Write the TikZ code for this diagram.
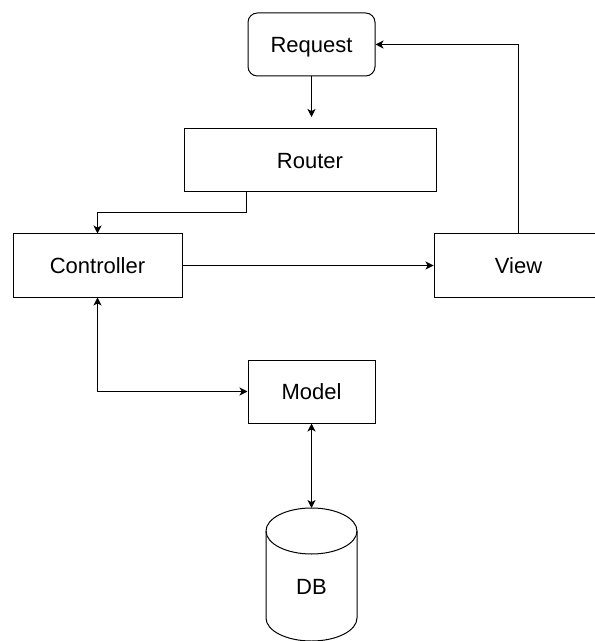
\documentclass[tikz,border=0pt]{standalone}
\usepackage{fontspec}
\setmainfont{Liberation Sans}
\usetikzlibrary{arrows.meta}
\tikzset{
  lbl/.style={font=\fontsize{16.5}{19}\selectfont, text height=11.8pt, text depth=0pt},
  box/.style={lbl, draw=black, line width=0.75pt, inner sep=0pt, fill=white},
  rbox/.style={box, rounded corners=7pt},
  conn/.style={draw=black, line width=0.75pt,
    arrows={-Stealth[length=6pt, width=6pt, inset=1.6pt]}},
  biconn/.style={conn, arrows={Stealth[length=6pt, width=6pt, inset=1.6pt]-Stealth[length=6pt, width=6pt, inset=1.6pt]}},
}
\begin{document}
\begin{tikzpicture}[x=0.75pt, y=-0.75pt]
  \useasboundingbox (0,0) rectangle (594,641);
  \fill[white] (0,0) rectangle (594,641);

  % components
  \node[rbox, minimum width=95.25pt, minimum height=47.25pt] (req) at (311.5,44.5) {Request};
  \node[box, minimum width=189pt, minimum height=47.25pt] (router) at (310,160.5) {Router};
  \node[box, minimum width=126.75pt, minimum height=47.25pt] (ctrl) at (97.5,265.5) {Controller};
  \node[box, minimum width=126.75pt, minimum height=47.25pt] (view) at (518.5,265.5) {View};
  \node[box, minimum width=95.25pt, minimum height=47.25pt] (model) at (311.5,391.5) {Model};

  % database cylinder
  \coordinate (dbtop) at (311.5,508);
  \draw[line width=0.75pt, fill=white] (266,531) -- (266,618)
    arc[start angle=180, end angle=360, x radius=34.125pt, y radius=17.25pt]
    -- (357,531)
    arc[start angle=0, end angle=180, x radius=34.125pt, y radius=17.25pt] -- cycle;
  \draw[line width=0.75pt] (266,531)
    arc[start angle=180, end angle=360, x radius=34.125pt, y radius=17.25pt];
  \node[lbl, inner sep=0pt] (db) at (311.5,587) {DB};

  % connectors
  \coordinate (routerin) at (311.5,117);
  \draw[conn] (req.south) -- (routerin);
  \draw[conn] (router.south west) ++(63,0) -- ++(0,20) -| (ctrl.north);
  \draw[conn] (ctrl.east) -- (view.west);
  \draw[conn] (view.north) |- (req.east);
  \draw[biconn] (ctrl.south) |- (model.west);
  \draw[biconn] (model.south) -- (dbtop);
\end{tikzpicture}
\end{document}
